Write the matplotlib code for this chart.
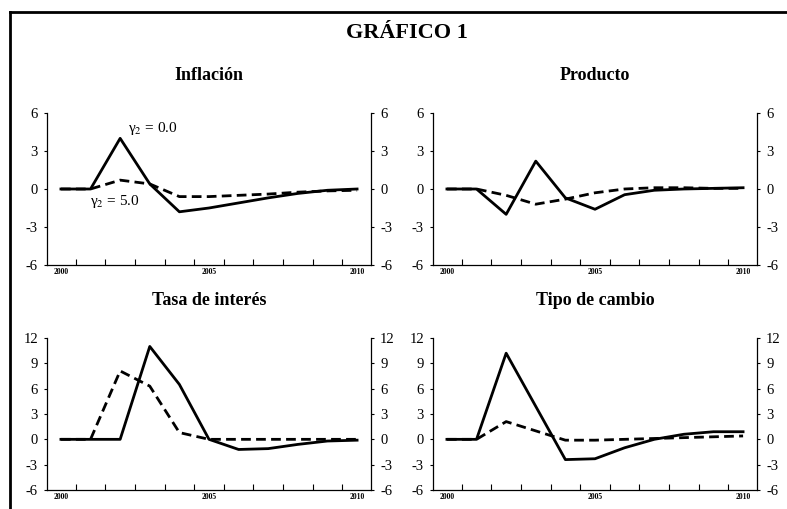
import numpy as np
import matplotlib
matplotlib.use("Agg")
import matplotlib.pyplot as plt
from matplotlib.lines import Line2D

plt.rcParams['font.family'] = ['Liberation Serif', 'DejaVu Serif']
plt.rcParams['mathtext.fontset'] = 'stix'
plt.rcParams['axes.unicode_minus'] = False

years = list(range(2000, 2011))

# Inflacion
infl_g0 = [0, 0, 4.0, 0.4, -1.8, -1.5, -1.1, -0.7, -0.35, -0.1, 0.0]
infl_g5 = [0, 0, 0.7, 0.4, -0.6, -0.6, -0.5, -0.4, -0.25, -0.15, -0.1]
# Producto
prod_g0 = [0, 0, -2.0, 2.2, -0.7, -1.6, -0.45, -0.1, 0.0, 0.05, 0.1]
prod_g5 = [0, 0, -0.5, -1.2, -0.8, -0.3, 0.0, 0.1, 0.1, 0.05, 0.05]
# Tasa de interes
tasa_g0 = [0, 0, 0, 11.0, 6.5, 0, -1.2, -1.1, -0.6, -0.2, -0.1]
tasa_g5 = [0, 0, 8.1, 6.3, 0.8, 0, 0, 0, 0, 0, 0]
# Tipo de cambio
tc_g0 = [0, 0, 10.2, 3.9, -2.4, -2.3, -1.0, 0.0, 0.6, 0.9, 0.9]
tc_g5 = [0, 0, 2.1, 1.0, -0.1, -0.1, 0.0, 0.1, 0.2, 0.3, 0.4]

titles = ['Inflación', 'Producto', 'Tasa de interés', 'Tipo de cambio']
series = [(infl_g0, infl_g5), (prod_g0, prod_g5), (tasa_g0, tasa_g5), (tc_g0, tc_g5)]
yticks_top = [-6, -3, 0, 3, 6]
yticks_bot = [-6, -3, 0, 3, 6, 9, 12]

fig = plt.figure(figsize=(7.87, 5.09), dpi=100)

W, H = 787.0, 509.0
boxes = [(47, 113), (433, 113), (47, 338), (433, 338)]  # left, top in px
aw, ah = 324, 152

fig.text(407 / W, 1 - 33 / H, 'GRÁFICO 1', ha='center', va='center',
         fontsize=16, fontweight='bold')

# frame lines (cropped box)
fig.add_artist(Line2D([10 / W, 10 / W], [0, 1 - 12 / H], transform=fig.transFigure,
                      color='black', lw=2))
fig.add_artist(Line2D([10 / W, 1], [1 - 12 / H, 1 - 12 / H], transform=fig.transFigure,
                      color='black', lw=2))

for i in range(4):
    l, t = boxes[i]
    ax = fig.add_axes([l / W, 1 - (t + ah) / H, aw / W, ah / H])
    g0, g5 = series[i]
    ax.plot(years, g0, color='black', lw=2.0)
    ax.plot(years, g5, color='black', lw=2.0, ls=(0, (3.5, 1.9)))
    ax.set_xlim(1999.53, 2010.47)
    if i < 2:
        ax.set_ylim(-6, 6)
        ax.set_yticks(yticks_top)
    else:
        ax.set_ylim(-6, 12)
        ax.set_yticks(yticks_bot)
    ax.set_xticks([2000, 2005, 2010])
    ax.set_xticklabels(['2000', '2005', '2010'], fontsize=5.5, fontweight='bold')
    ax.set_xticks(np.arange(2000.5, 2010, 1.0), minor=True)
    ax.tick_params(axis='x', which='major', length=0, pad=2)
    ax.tick_params(axis='x', which='minor', direction='in', length=4, width=0.8)
    ax.tick_params(axis='y', which='major', left=True, right=True, labelleft=True,
                   labelright=True, direction='out', length=2.5, width=0.8,
                   labelsize=10.5, pad=4)
    ax.spines['top'].set_visible(False)
    for s in ['left', 'right', 'bottom']:
        ax.spines[s].set_linewidth(0.9)
    ax.set_title(titles[i], fontsize=13, fontweight='bold', pad=24)
    if i == 0:
        ax.text(2002.25, 4.8, 'γ$_2$ = 0.0', fontsize=11, ha='left', va='center')
        ax.text(2000.98, -0.95, 'γ$_2$ = 5.0', fontsize=11, ha='left', va='center')

fig.savefig('out.png', dpi=100)
